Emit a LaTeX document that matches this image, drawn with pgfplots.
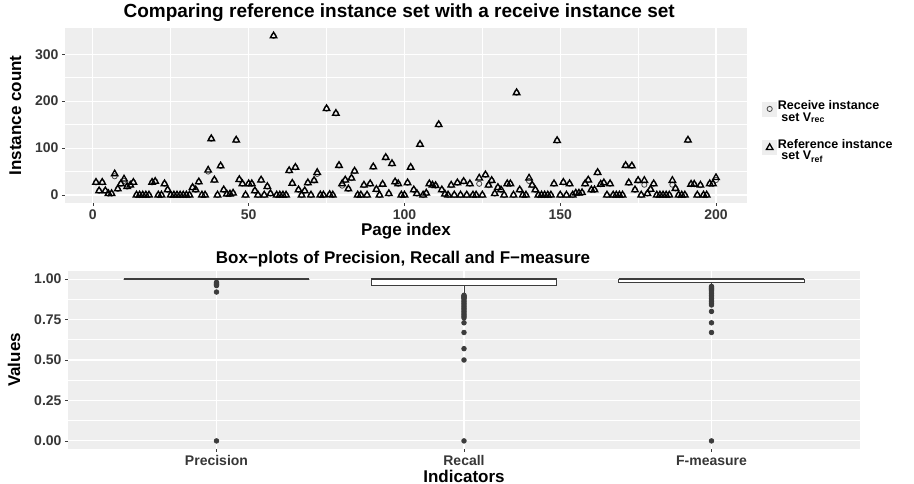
\documentclass[border=0pt]{standalone}
\usepackage{fontspec}
\setmainfont{Liberation Sans}
\usepackage{pgfplots}
\pgfplotsset{compat=1.18}
\usepackage{pgfplotstable}
\usepgfplotslibrary{statistics}

\definecolor{panel}{RGB}{238,238,238}
\definecolor{ticktxt}{RGB}{55,55,55}
\definecolor{boxline}{RGB}{60,60,60}
\definecolor{recgray}{RGB}{70,70,70}

% page index, reference count, received count
\pgfplotstableread[row sep=\\]{
idx ref rec\\
1 27 27\\ 2 9 9\\ 3 27 27\\ 4 9 9\\ 5 3 3\\ 6 3 3\\ 7 45 40\\ 8 13 13\\ 9 24 24\\ 10 34 30\\
11 18 18\\ 12 21 21\\ 13 27 27\\ 14 0 0\\ 15 0 0\\ 16 0 0\\ 17 0 0\\ 18 0 0\\ 19 27 27\\ 20 29 29\\
21 0 0\\ 22 0 0\\ 23 24 24\\ 24 11 11\\ 25 0 0\\ 26 0 0\\ 27 0 0\\ 28 0 0\\ 29 0 0\\ 30 0 0\\
31 0 0\\ 32 16 16\\ 33 11 11\\ 34 28 28\\ 35 0 0\\ 36 0 0\\ 37 53 50\\ 38 120 120\\ 39 32 32\\ 40 0 0\\
41 62 62\\ 42 11 11\\ 43 2 2\\ 44 2 2\\ 45 4 4\\ 46 117 117\\ 47 33 33\\ 48 24 24\\ 49 0 0\\ 50 24 24\\
51 24 24\\ 52 9 9\\ 53 0 0\\ 54 32 32\\ 55 0 0\\ 56 18 18\\ 57 3 3\\ 58 339 339\\ 59 0 0\\ 60 0 0\\
61 0 0\\ 62 0 0\\ 63 52 52\\ 64 25 25\\ 65 59 59\\ 66 11 11\\ 67 0 0\\ 68 9 9\\ 69 26 26\\ 70 0 0\\
71 31 31\\ 72 48 45\\ 73 0 0\\ 74 0 0\\ 75 184 184\\ 76 1 1\\ 77 0 0\\ 78 174 174\\ 79 63 63\\ 80 24 20\\
81 32 32\\ 82 13 13\\ 83 36 36\\ 84 51 51\\ 85 0 0\\ 86 0 0\\ 87 21 21\\ 88 0 0\\ 89 24 24\\ 90 60 60\\
91 12 12\\ 92 0 0\\ 93 23 23\\ 94 80 80\\ 95 3 3\\ 96 67 67\\ 97 28 28\\ 98 24 24\\ 99 0 0\\ 100 0 0\\
101 26 26\\ 102 59 59\\ 103 11 11\\ 104 3 3\\ 105 108 108\\ 106 0 0\\ 107 4 4\\ 108 24 24\\ 109 21 21\\ 110 20 20\\
111 150 150\\ 112 11 11\\ 113 2 2\\ 114 0 0\\ 115 21 21\\ 116 0 0\\ 117 26 26\\ 118 0 0\\ 119 29 29\\ 120 0 0\\
121 24 24\\ 122 0 0\\ 123 0 0\\ 124 36 24\\ 125 0 0\\ 126 43 43\\ 127 21 21\\ 128 31 31\\ 129 3 3\\ 130 16 16\\
131 11 11\\ 132 0 0\\ 133 24 24\\ 134 24 24\\ 135 0 0\\ 136 218 218\\ 137 11 11\\ 138 0 0\\ 139 0 0\\ 140 36 30\\
141 21 21\\ 142 11 11\\ 143 0 0\\ 144 0 0\\ 145 0 0\\ 146 0 0\\ 147 0 0\\ 148 24 24\\ 149 116 116\\ 150 0 0\\
151 27 27\\ 152 0 0\\ 153 24 24\\ 154 0 0\\ 155 4 4\\ 156 4 4\\ 157 5 5\\ 158 24 24\\ 159 32 32\\ 160 11 11\\
161 11 11\\ 162 48 48\\ 163 23 23\\ 164 26 26\\ 165 0 0\\ 166 24 24\\ 167 0 0\\ 168 0 0\\ 169 0 0\\ 170 0 0\\
171 63 63\\ 172 26 26\\ 173 62 62\\ 174 11 11\\ 175 31 31\\ 176 0 0\\ 177 31 22\\ 178 3 3\\ 179 12 12\\ 180 24 24\\
181 0 0\\ 182 0 0\\ 183 0 0\\ 184 0 0\\ 185 0 0\\ 186 31 22\\ 187 14 14\\ 188 0 0\\ 189 0 0\\ 190 0 0\\
191 117 117\\ 192 23 23\\ 193 23 23\\ 194 0 0\\ 195 21 21\\ 196 0 0\\ 197 0 0\\ 198 24 24\\ 199 24 24\\ 200 37 32\\
}\pages

\pgfplotsset{
  gg/.style={
    scale only axis,
    axis background/.style={fill=panel},
    axis x line*=bottom, axis y line*=left,
    axis line style={draw=none},
    tick align=outside,
    major tick length=3pt, minor tick length=0pt,
    every tick/.style={boxline, line width=0.6pt},
    grid=both,
    major grid style={white, line width=1.1pt},
    minor grid style={white, line width=0.55pt},
    /pgf/number format/assume math mode=true,
    tick label style={font=\bfseries\fontsize{14}{14}\selectfont, text=ticktxt},
    label style={font=\bfseries\fontsize{17}{17}\selectfont},
    ylabel style={yshift=7pt},
  },
  ggbox/.style={
    boxplot/draw direction=y,
    draw=boxline, fill=white, line width=0.8pt,
    mark=*, mark size=2.3pt, mark options={fill=boxline, draw=boxline},
  },
}

\begin{document}
\begin{tikzpicture}
\useasboundingbox (0pt,0pt) rectangle (914pt,484pt);

\begin{axis}[gg,
  at={(65pt,281pt)}, anchor=south west,
  width=682pt, height=175pt,
  xmin=-8.95, xmax=209.95, ymin=-16.95, ymax=355.95,
  xtick={0,50,...,200}, ytick={0,100,200,300},
  minor x tick num=1, minor y tick num=1,
  title={Comparing reference instance set with a receive instance set},
  title style={font=\bfseries\fontsize{19}{19}\selectfont, at={(0.49,1)}, yshift=-3pt},
  xlabel={Page index}, xlabel style={yshift=3pt},
  ylabel={Instance count},
  legend style={at={(1.018,0.427)}, anchor=west, draw=none, fill=none,
    font=\bfseries\fontsize{12.5}{12.5}\selectfont, row sep=20pt,
    nodes={inner sep=1pt}},
  legend cell align=left,
  legend image code/.code={
    \fill[panel] (0pt,-7pt) rectangle (14pt,7pt);
    \draw[mark repeat=2, mark phase=2, #1] plot coordinates {(0pt,0pt) (7pt,0pt) (14pt,0pt)};
  },
]
\addplot[only marks, mark=o, mark size=2.6pt, mark options={draw=recgray, line width=0.8pt}]
  table[x=idx, y=rec] {\pages};
\addlegendentry{\begin{tabular}{@{}l@{}}Receive instance\\[-1pt]\ set V\textsubscript{rec}\end{tabular}}
\addplot[only marks, mark=triangle, mark size=3.8pt, mark options={draw=black, line width=1.3pt, fill=none}]
  table[x=idx, y=ref] {\pages};
\addlegendentry{\begin{tabular}{@{}l@{}}Reference instance\\[-1pt]\ set V\textsubscript{ref}\end{tabular}}
\end{axis}

\begin{axis}[gg,
  at={(68pt,35pt)}, anchor=south west,
  width=792pt, height=178pt,
  xmin=0.4, xmax=3.6, ymin=-0.05, ymax=1.05,
  xtick={1,2,3}, xticklabels={Precision,Recall,F-measure},
  ytick={0,0.25,0.5,0.75,1}, minor y tick num=1,
  yticklabel style={/pgf/number format/.cd, fixed, fixed zerofill, precision=2},
  title={Box−plots of Precision, Recall and F−measure},
  title style={font=\bfseries\fontsize{17}{17}\selectfont, at={(0.423,1)}, yshift=-6pt},
  xlabel={Indicators}, xlabel style={inner sep=1pt, yshift=0.5pt},
  ylabel={Values},
  boxplot/every median/.style={line width=2.2pt},
]
\addplot[ggbox, boxplot prepared={draw position=1, lower whisker=1, lower quartile=1,
    median=1, upper quartile=1, upper whisker=1, box extend=0.75, whisker extend=0}]
  table[row sep=\\, y index=0] {0.98\\0.975\\0.97\\0.965\\0.96\\0.92\\0\\};
\addplot[ggbox, boxplot prepared={draw position=2, lower whisker=0.911, lower quartile=0.961,
    median=1, upper quartile=1, upper whisker=1, box extend=0.75, whisker extend=0}]
  table[row sep=\\, y index=0] {0.90\\0.895\\0.89\\0.885\\0.88\\0.87\\0.86\\0.85\\0.84\\0.83\\0.82\\0.81\\0.80\\0.79\\0.78\\0.77\\0.76\\0.73\\0.67\\0.57\\0.50\\0\\};
\addplot[ggbox, boxplot prepared={draw position=3, lower whisker=0.961, lower quartile=0.977,
    median=1, upper quartile=1, upper whisker=1, box extend=0.75, whisker extend=0}]
  table[row sep=\\, y index=0] {0.955\\0.95\\0.945\\0.94\\0.935\\0.93\\0.92\\0.91\\0.90\\0.89\\0.88\\0.87\\0.86\\0.85\\0.84\\0.80\\0.73\\0.67\\0\\};
\end{axis}
\end{tikzpicture}
\end{document}
